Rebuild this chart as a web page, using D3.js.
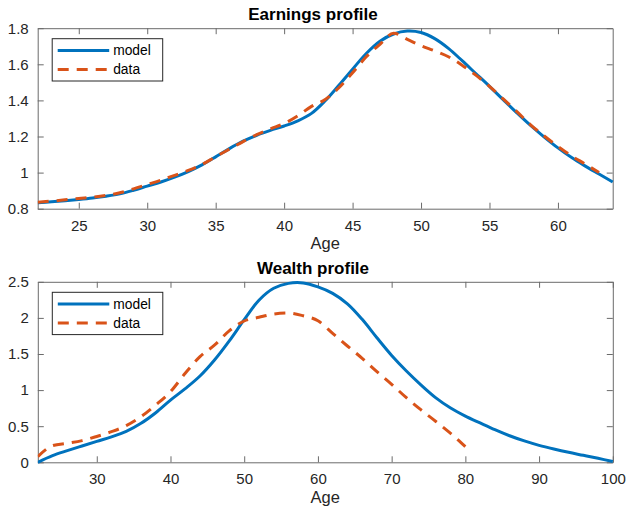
<!DOCTYPE html>
<html>
<head>
<meta charset="utf-8">
<script src="https://cdn.jsdelivr.net/npm/d3@7"></script>
<style>
  html, body { margin: 0; padding: 0; background: #fff; }
  svg { display: block; font-family: "Liberation Sans", Arial, Helvetica, sans-serif; }
</style>
</head>
<body>
<svg id="chart" width="626" height="509"></svg>
<script>
// ---- Earnings profile (ages 22–64) ----
const earnAges = [22,23,24,25,26,27,28,29,30,31,32,33,34,35,36,37,38,39,40,41,42,43,
                  44,45,46,47,48,49,50,51,52,53,54,55,56,57,58,59,60,61,62,63,64];
const earnModel = [0.833,0.838,0.844,0.851,0.859,0.869,0.882,0.902,0.925,0.948,0.975,1.006,
                   1.043,1.087,1.133,1.174,1.207,1.234,1.258,1.287,1.328,1.398,1.484,1.573,
                   1.660,1.728,1.768,1.784,1.776,1.742,1.688,1.620,1.549,1.478,1.404,1.331,
                   1.261,1.197,1.137,1.083,1.036,0.992,0.948];
const earnDataAges = [22,23,24,25,26,27,28,29,30,31,32,33,34,35,36,37,38,39,40,41,42,43,
                      44,45,46,47,48,49,50,51,52,53,54,55,56,57,58,59,60,61,62,63];
const earnData = [0.836,0.842,0.849,0.857,0.864,0.874,0.888,0.910,0.934,0.958,0.985,1.012,
                  1.045,1.088,1.130,1.172,1.210,1.242,1.272,1.315,1.367,1.405,1.470,1.553,
                  1.642,1.711,1.772,1.738,1.703,1.674,1.642,1.595,1.540,1.478,1.408,1.338,
                  1.265,1.203,1.145,1.092,1.047,1.000];

// ---- Wealth profile (ages 22–100) ----
const wealthAges = [22,24,26,28,30,32,34,36,38,40,42,44,46,48,50,52,54,56,58,60,
                    62,64,66,68,70,72,74,76,78,80,82,84,86,88,90,92,94,96,98,100];
const wealthModel = [0.000,0.092,0.161,0.226,0.290,0.352,0.428,0.540,0.687,0.862,
                     1.020,1.195,1.420,1.685,1.975,2.245,2.410,2.478,2.484,2.430,
                     2.340,2.195,1.980,1.725,1.480,1.265,1.070,0.893,0.752,0.640,
                     0.545,0.452,0.368,0.296,0.235,0.184,0.138,0.097,0.055,0.010];
const wealthDataAges = [22,24,26,28,30,32,34,36,38,40,42,44,46,48,50,52,54,56,58,60,
                        62,64,66,68,70,72,74,76,78,80];
const wealthData = [0.078,0.230,0.263,0.300,0.358,0.424,0.507,0.632,0.794,0.978,
                    1.233,1.463,1.625,1.823,1.957,2.008,2.054,2.068,2.030,1.961,
                    1.786,1.611,1.440,1.255,1.080,0.895,0.725,0.565,0.400,0.216];

// ---- Axis ticks ----
const earnXTicks = [25,30,35,40,45,50,55,60];
const earnYTicks = [0.8,1,1.2,1.4,1.6,1.8];
const wealthXTicks = [30,40,50,60,70,80,90,100];
const wealthYTicks = [0,0.5,1,1.5,2,2.5];

const seriesNames = ["model", "data"];
const titles = ["Earnings profile", "Wealth profile"];
const xLabel = "Age";

const BLUE = "#0072BD", ORANGE = "#D95319";
const AXIS = "#6b6b6b", TEXT = "#262626";
const DASH = "11,8";

const svg = d3.select("#chart");

function drawPanel(cfg, idx) {
  const { left, right, top, bottom } = cfg.box;
  const x = d3.scaleLinear().domain(cfg.xDomain).range([left, right]);
  const y = d3.scaleLinear().domain(cfg.yDomain).range([bottom, top]);
  const g = svg.append("g");

  const clipId = "clip" + idx;
  g.append("clipPath").attr("id", clipId)
    .append("rect").attr("x", left).attr("y", top - 2)
    .attr("width", right - left + 2).attr("height", bottom - top + 4);

  // axes with inward ticks on all four sides
  const styleAxis = sel => {
    sel.select(".domain").attr("stroke", AXIS).attr("stroke-width", 1);
    sel.selectAll(".tick line").attr("stroke", AXIS).attr("stroke-width", 1);
    sel.selectAll("text").attr("fill", TEXT).attr("font-size", 15);
  };
  g.append("g").attr("transform", `translate(0,${bottom})`)
    .call(d3.axisBottom(x).tickValues(cfg.xTicks).tickSizeInner(-6).tickSizeOuter(0)
      .tickPadding(11.5).tickFormat(d3.format("")))
    .call(styleAxis);
  g.append("g").attr("transform", `translate(0,${top})`)
    .call(d3.axisTop(x).tickValues(cfg.xTicks).tickSizeInner(-6).tickSizeOuter(0)
      .tickFormat(""))
    .call(styleAxis);
  g.append("g").attr("transform", `translate(${left},0)`)
    .call(d3.axisLeft(y).tickValues(cfg.yTicks).tickSizeInner(-6).tickSizeOuter(0)
      .tickPadding(9).tickFormat(d3.format("")))
    .call(styleAxis);
  g.append("g").attr("transform", `translate(${right},0)`)
    .call(d3.axisRight(y).tickValues(cfg.yTicks).tickSizeInner(-6).tickSizeOuter(0)
      .tickFormat(""))
    .call(styleAxis);

  // series: smooth model curve, dashed data curve
  const modelLine = d3.line().x(d => x(d[0])).y(d => y(d[1])).curve(d3.curveCatmullRom.alpha(0.5));
  const dataLine = d3.line().x(d => x(d[0])).y(d => y(d[1])).curve(d3.curveMonotoneX);
  const lines = g.append("g").attr("clip-path", `url(#${clipId})`);
  lines.append("path")
    .datum(d3.zip(cfg.modelAges, cfg.model))
    .attr("d", modelLine).attr("fill", "none")
    .attr("stroke", BLUE).attr("stroke-width", 3).attr("stroke-linejoin", "round");
  lines.append("path")
    .datum(d3.zip(cfg.dataAges, cfg.data))
    .attr("d", dataLine).attr("fill", "none")
    .attr("stroke", ORANGE).attr("stroke-width", 3).attr("stroke-dasharray", DASH);

  // title and x label
  g.append("text").attr("x", 313).attr("y", top - 8)
    .attr("text-anchor", "middle").attr("font-size", 17).attr("font-weight", "bold")
    .attr("fill", "#000").text(cfg.title);
  g.append("text").attr("x", (left + right) / 2).attr("y", bottom + 40.5)
    .attr("text-anchor", "middle").attr("font-size", 16.5)
    .attr("fill", TEXT).text(xLabel);

  // legend
  const lg = g.append("g").attr("transform", `translate(${left + 14.5},${top + 10.5})`);
  lg.append("rect").attr("x", 0).attr("y", 0).attr("width", 110.5).attr("height", 42.3)
    .attr("fill", "#fff").attr("stroke", TEXT).attr("stroke-width", 1);
  const colors = [BLUE, ORANGE];
  seriesNames.forEach((name, i) => {
    const yy = 11.8 + i * 19;
    lg.append("line").attr("x1", 5.5).attr("x2", 57).attr("y1", yy).attr("y2", yy)
      .attr("stroke", colors[i]).attr("stroke-width", 3)
      .attr("stroke-dasharray", i === 1 ? DASH : null);
    lg.append("text").attr("x", 61).attr("y", yy).attr("dy", "0.35em")
      .attr("font-size", 13.8).attr("fill", "#000").text(name);
  });
}

drawPanel({
  box: { left: 37.7, right: 612.7, top: 28.2, bottom: 208.7 },
  xDomain: [22, 64], yDomain: [0.8, 1.8],
  xTicks: earnXTicks, yTicks: earnYTicks,
  modelAges: earnAges, model: earnModel,
  dataAges: earnDataAges, data: earnData,
  title: titles[0]
}, 0);

drawPanel({
  box: { left: 37.8, right: 612.8, top: 281.8, bottom: 462.3 },
  xDomain: [22, 100], yDomain: [0, 2.5],
  xTicks: wealthXTicks, yTicks: wealthYTicks,
  modelAges: wealthAges, model: wealthModel,
  dataAges: wealthDataAges, data: wealthData,
  title: titles[1]
}, 1);
</script>
</body>
</html>
